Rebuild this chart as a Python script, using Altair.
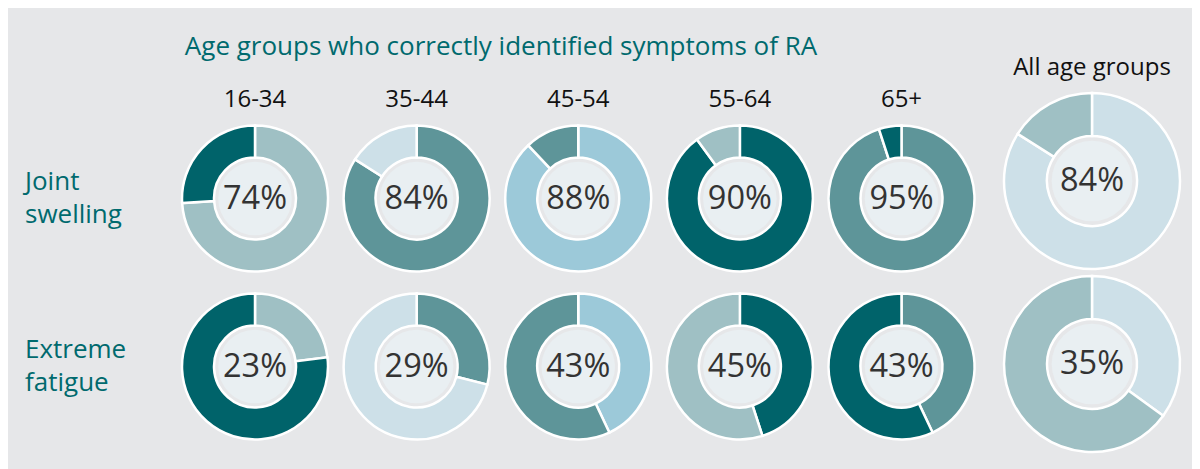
import altair as alt
import pandas as pd

groups = ["16-34", "35-44", "45-54", "55-64", "65+", "All age groups"]
row_labels = [["Joint", "swelling"], ["Extreme", "fatigue"]]
joint_pct = [74, 84, 88, 90, 95, 84]
fatigue_pct = [23, 29, 43, 45, 43, 35]
main_tone = ["light", "mid", "blue", "dark", "mid", "pale"]
rest_tone = ["dark", "pale", "mid", "light", "dark", "light"]
title_text = "Age groups who correctly identified symptoms of RA"

tone_names = ["dark", "mid", "light", "blue", "pale"]
tone_colors = ["#00636a", "#5e9599", "#9fc0c4", "#9cc9d9", "#cde0e8"]
BG = "#e6e7e9"
HOLE = "#e9eff2"
TEAL = "#006a6e"
FONT = "Open Sans"

# build tables
seg_rows, pct_rows = [], []
for r, vals in enumerate([joint_pct, fatigue_pct]):
    for c, v in enumerate(vals):
        seg_rows.append({"col": c, "row": r, "order": 0, "value": v, "tone": main_tone[c]})
        seg_rows.append({"col": c, "row": r, "order": 1, "value": 100 - v, "tone": rest_tone[c]})
        pct_rows.append({"col": c, "row": r, "label": f"{v}%"})
seg_df = pd.DataFrame(seg_rows)
pct_df = pd.DataFrame(pct_rows)
head_df = pd.DataFrame({"col": list(range(len(groups))), "group": groups})
rowlab_df = pd.DataFrame([{"row": r, "line": i, "label": t}
                          for r, lines in enumerate(row_labels) for i, t in enumerate(lines)])
title_df = pd.DataFrame({"t": [title_text]})

x_enc = alt.X("col:Q", axis=None,
              scale=alt.Scale(domain=[0, 4, 5], range=[247, 893.5, 1084], nice=False, zero=False))
y_small = alt.Y("row:Q", axis=None,
                scale=alt.Scale(domain=[0, 1], range=[190.5, 358.5], nice=False, zero=False))
y_big = alt.Y("row:Q", axis=None,
              scale=alt.Scale(domain=[0, 1], range=[173, 356], nice=False, zero=False))
theta_scale = alt.Scale(domain=[0, 100], range=[0, 6.283185307])
color_enc = alt.Color("tone:N", legend=None,
                      scale=alt.Scale(domain=tone_names, range=tone_colors))


def donut_layer(cond, y_enc, r_in, r_out, fsize):
    segs = (alt.Chart(seg_df)
            .transform_filter(cond)
            .transform_window(end="sum(value)", groupby=["col", "row"],
                              sort=[alt.SortField("order")], frame=[None, 0])
            .transform_calculate(start="datum.end - datum.value")
            .mark_arc(innerRadius=r_in, outerRadius=r_out, stroke="white", strokeWidth=2.5)
            .encode(x=x_enc, y=y_enc,
                    theta=alt.Theta("start:Q", scale=theta_scale),
                    theta2="end:Q", color=color_enc))
    holes = (alt.Chart(pct_df).transform_filter(cond)
             .mark_circle(size=3.14159 * (r_in + 0.5) ** 2, opacity=1, color=HOLE)
             .encode(x=x_enc, y=y_enc))
    texts = (alt.Chart(pct_df).transform_filter(cond)
             .mark_text(font=FONT, fontSize=fsize, color="#333333", baseline="middle", align="center")
             .encode(x=x_enc, y=y_enc, text="label:N"))
    return holes, segs, texts


hs, ss, ts = donut_layer("datum.col < 5", y_small, 41, 73, 32.5)
hb, sb, tb = donut_layer("datum.col == 5", y_big, 45, 88, 32.5)


def row_line(i, dy):
    return (alt.Chart(rowlab_df).transform_filter(f"datum.line == {i}")
            .mark_text(font=FONT, fontSize=26, color=TEAL, align="left", baseline="middle", dy=dy)
            .encode(x=alt.value(17), y=y_small, text="label:N"))


small = alt.layer(hs, ss, ts, row_line(0, -16.5), row_line(1, 16.5))
big = alt.layer(hb, sb, tb)

title_layer = (alt.Chart(title_df)
               .mark_text(font=FONT, fontSize=26, color=TEAL, align="center", baseline="middle")
               .encode(x=alt.value(493), y=alt.value(39), text="t:N"))
heads = (alt.Chart(head_df).transform_filter("datum.col < 5")
         .mark_text(font=FONT, fontSize=24, color="#111111", align="center", baseline="middle")
         .encode(x=x_enc, y=alt.value(92), text="group:N"))
head_all = (alt.Chart(head_df).transform_filter("datum.col == 5")
            .mark_text(font=FONT, fontSize=24, color="#111111", align="center", baseline="middle")
            .encode(x=x_enc, y=alt.value(60), text="group:N"))

chart = (alt.layer(title_layer, heads, head_all, small, big)
         .resolve_scale(y="independent")
         .properties(width=1184, height=461, padding=0,
                     autosize=alt.AutoSizeParams(type="none"), background=BG)
         .configure_view(strokeWidth=0))

chart.save("out.html", embed_options={"renderer": "svg", "actions": False})
